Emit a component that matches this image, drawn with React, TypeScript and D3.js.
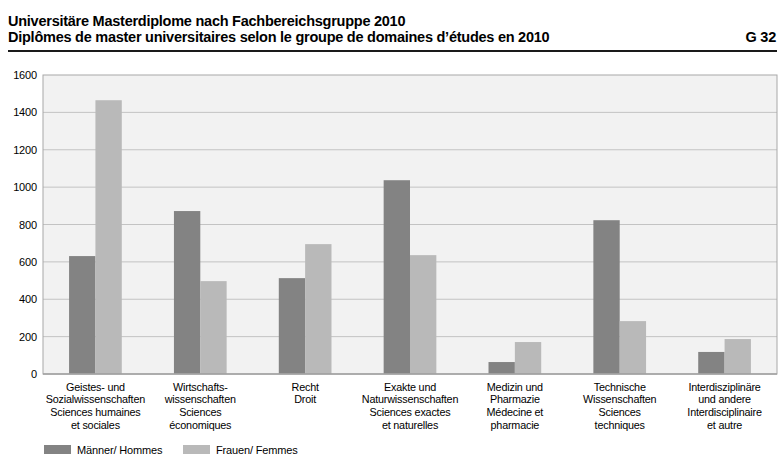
import React from "react";
import * as d3 from "d3";

const categories: string[][] = [
  ["Geistes- und", "Sozialwissenschaften", "Sciences humaines", "et sociales"],
  ["Wirtschafts-", "wissenschaften", "Sciences", "économiques"],
  ["Recht", "Droit"],
  ["Exakte und", "Naturwissenschaften", "Sciences exactes", "et naturelles"],
  ["Medizin und", "Pharmazie", "Médecine et", "pharmacie"],
  ["Technische", "Wissenschaften", "Sciences", "techniques"],
  ["Interdisziplinäre", "und andere", "Interdisciplinaire", "et autre"],
];
const maenner: number[] = [631, 872, 513, 1037, 64, 823, 118];
const frauen: number[] = [1465, 497, 695, 636, 171, 283, 187];
const yTicks: number[] = [0, 200, 400, 600, 800, 1000, 1200, 1400, 1600];
const seriesNames: string[] = ["Männer/ Hommes", "Frauen/ Femmes"];
const titleLines: string[] = [
  "Universitäre Masterdiplome nach Fachbereichsgruppe 2010",
  "Diplômes de master universitaires selon le groupe de domaines d’études en 2010",
];
const chartCode = "G 32";

const COLORS = ["#838383", "#b9b9b9"];
const FONT = "'Liberation Sans', Arial, sans-serif";

export default function App() {
  const W = 779;
  const H = 460;
  const left = 43;
  const right = 777;
  const top = 75;
  const bottom = 374;

  const x = d3
    .scaleBand<number>()
    .domain(categories.map((_, i) => i))
    .range([left, right])
    .paddingInner(0)
    .paddingOuter(0);
  const inner = d3
    .scaleBand<number>()
    .domain([0, 1])
    .range([0, x.bandwidth()])
    .paddingInner(0)
    .paddingOuter(0.99);
  const y = d3.scaleLinear().domain([0, 1600]).range([bottom, top]);

  const series = [maenner, frauen];

  return (
    <svg
      width={W}
      height={H}
      style={{ position: "absolute", left: 0, top: 0, background: "#fff" }}
      fontFamily={FONT}
    >
      <text x={8} y={26} fontSize={14.5} fontWeight="bold" fill="#000" letterSpacing={-0.25}>
        {titleLines[0]}
      </text>
      <text x={8} y={41.5} fontSize={14.5} fontWeight="bold" fill="#000" letterSpacing={-0.25}>
        {titleLines[1]}
      </text>
      <text x={776} y={41.5} fontSize={14.5} fontWeight="bold" fill="#000" textAnchor="end" letterSpacing={-0.25}>
        {chartCode}
      </text>
      <line x1={8} x2={777} y1={51} y2={51} stroke="#1a1a1a" strokeWidth={1.8} />

      <rect x={left} y={top} width={right - left} height={bottom - top} fill="#f2f2f2" />
      {yTicks.map((t) => (
        <g key={t}>
          {t > 0 && t < 1600 && (
            <line x1={left} x2={right} y1={y(t)} y2={y(t)} stroke="#c3c3c3" strokeWidth={1} />
          )}
          <text x={37} y={y(t) + 4} fontSize={11} textAnchor="end" fill="#000" letterSpacing={-0.15}>
            {t}
          </text>
        </g>
      ))}
      {series.map((vals, s) =>
        vals.map((v, i) => (
          <rect
            key={`${s}-${i}`}
            x={(x(i) ?? 0) + (inner(s) ?? 0)}
            y={y(v)}
            width={inner.bandwidth()}
            height={bottom - y(v)}
            fill={COLORS[s]}
          />
        ))
      )}
      <rect
        x={left}
        y={top}
        width={right - left}
        height={bottom - top}
        fill="none"
        stroke="#a8a8a8"
        strokeWidth={1}
      />
      <line x1={left} x2={right} y1={bottom} y2={bottom} stroke="#a0a0a0" strokeWidth={1.5} />

      {categories.map((lines, i) => (
        <text
          key={i}
          x={(x(i) ?? 0) + x.bandwidth() / 2}
          fontSize={10.8}
          textAnchor="middle"
          fill="#000"
          letterSpacing={-0.2}
        >
          {lines.map((l, k) => (
            <tspan key={k} x={(x(i) ?? 0) + x.bandwidth() / 2} y={390.5 + k * 12.9}>
              {l}
            </tspan>
          ))}
        </text>
      ))}

      {seriesNames.map((n, s) => (
        <g key={n} transform={`translate(${44 + s * 139},445)`}>
          <rect x={0} y={0} width={27} height={9} fill={COLORS[s]} />
          <text x={33} y={8.8} fontSize={11} fill="#000" letterSpacing={-0.15}>
            {n}
          </text>
        </g>
      ))}
    </svg>
  );
}
